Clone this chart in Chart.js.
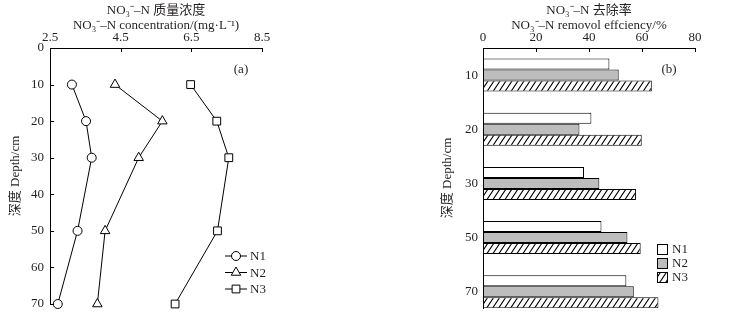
<!DOCTYPE html>
<html>
<head>
<meta charset="utf-8">
<script src="https://cdn.jsdelivr.net/npm/chart.js@4.4.0/dist/chart.umd.min.js"></script>
<style>
  html, body { margin: 0; padding: 0; background: #fff; }
  #wrap { position: relative; width: 729px; height: 325px; }
  canvas { position: absolute; top: 0; }
  #chartA { left: 0; }
  #chartB { left: 380px; }
</style>
</head>
<body>
<div id="wrap">
  <canvas id="chartA" width="365" height="325"></canvas>
  <canvas id="chartB" width="349" height="325"></canvas>
</div>
<script>
// 数据 (a): 深度 vs NO3--N 浓度
const depthsA = [10, 20, 30, 50, 70];
const concN1 = [3.12, 3.52, 3.68, 3.28, 2.72];
const concN2 = [4.34, 5.68, 5.01, 4.06, 3.84];
const concN3 = [6.48, 7.22, 7.56, 7.24, 6.04];
const concTicks = [2.5, 4.5, 6.5, 8.5];

// 数据 (b): 去除率
const depthsB = ['10', '20', '30', '50', '70'];
const remN1 = [47.7, 40.9, 38.1, 44.7, 54.1];
const remN2 = [51.2, 36.4, 43.9, 54.5, 56.9];
const remN3 = [63.7, 59.9, 57.7, 59.5, 66.2];

const seriesNames = ['N1', 'N2', 'N3'];

const FONT = '"Liberation Serif", "Noto Sans CJK SC", serif';
const INK = '#231f20';
Chart.defaults.font.family = FONT;
Chart.defaults.font.size = 13;
Chart.defaults.color = INK;

// 斜线填充
function hatchPattern() {
  const c = document.createElement('canvas');
  c.width = 6; c.height = 9;
  const g = c.getContext('2d');
  g.fillStyle = '#fff';
  g.fillRect(0, 0, 6, 9);
  g.strokeStyle = '#000';
  g.lineWidth = 1.1;
  g.beginPath();
  g.moveTo(0, 9); g.lineTo(6, 0);
  g.moveTo(-1, 1.5); g.lineTo(1, -1.5);
  g.moveTo(5, 10.5); g.lineTo(7, 7.5);
  g.stroke();
  return g.createPattern(c, 'repeat');
}

const topTitleFont = { size: 13, lineHeight: '15px' };
const noGrid = { display: false, drawTicks: false };

// 内向刻度、面板标记、图例
const decor = {
  id: 'decor',
  afterDraw(chart, args, opts) {
    const { ctx, chartArea: a, scales } = chart;
    ctx.save();
    ctx.strokeStyle = '#000';
    ctx.lineWidth = 1;
    scales.x.ticks.forEach(t => {
      const px = Math.round(scales.x.getPixelForValue(t.value)) + 0.5;
      ctx.beginPath(); ctx.moveTo(px, a.top); ctx.lineTo(px, a.top + 4); ctx.stroke();
    });
    if (opts.yTicks) {
      scales.y.ticks.forEach(t => {
        const py = Math.round(scales.y.getPixelForValue(t.value)) + 0.5;
        ctx.beginPath(); ctx.moveTo(a.left, py); ctx.lineTo(a.left + 4, py); ctx.stroke();
      });
    }
    ctx.fillStyle = INK;
    ctx.font = '13px ' + FONT;
    ctx.textAlign = 'center';
    ctx.textBaseline = 'middle';
    ctx.fillText(opts.tag, opts.tagX, opts.tagY);

    ctx.textAlign = 'left';
    chart.data.datasets.forEach((ds, i) => {
      const y = opts.legY + i * opts.legGap;
      if (opts.legType === 'line') {
        ctx.strokeStyle = '#000';
        ctx.beginPath(); ctx.moveTo(opts.legX, y); ctx.lineTo(opts.legX + 22, y); ctx.stroke();
        ctx.fillStyle = '#fff';
        Chart.helpers.drawPoint(ctx, { pointStyle: ds.pointStyle, radius: ds.pointRadius, borderWidth: 1, rotation: 0 }, opts.legX + 11, y);
        ctx.fillStyle = INK;
        ctx.fillText(ds.label, opts.legX + 25, y + 1);
      } else {
        ctx.fillStyle = ds.backgroundColor;
        ctx.fillRect(opts.legX, y - 5, 10, 10);
        ctx.strokeStyle = '#000';
        ctx.strokeRect(opts.legX + 0.5, y - 4.5, 10, 10);
        ctx.fillStyle = INK;
        ctx.fillText(ds.label, opts.legX + 15, y + 1);
      }
    });
    ctx.restore();
  }
};

function lineSet(label, vals, style, r) {
  return {
    label,
    data: depthsA.map((d, i) => ({ x: vals[i], y: d })),
    borderColor: '#000',
    borderWidth: 1,
    pointStyle: style,
    pointRadius: r,
    pointBackgroundColor: '#fff',
    pointBorderColor: '#000',
    pointBorderWidth: 1,
    tension: 0,
    clip: false
  };
}

new Chart(document.getElementById('chartA'), {
  type: 'line',
  data: {
    datasets: [
      lineSet(seriesNames[0], concN1, 'circle', 4.5),
      lineSet(seriesNames[1], concN2, 'triangle', 5.5),
      lineSet(seriesNames[2], concN3, 'rect', 5.5)
    ]
  },
  options: {
    responsive: false,
    animation: false,
    layout: { padding: { left: 8, top: 0, right: 103, bottom: 21 } },
    plugins: {
      legend: { display: false },
      tooltip: { enabled: false },
      decor: { yTicks: true, tag: '(a)', tagX: 241, tagY: 70, legType: 'line', legX: 225, legY: 256, legGap: 16.5 }
    },
    scales: {
      x: {
        type: 'linear', position: 'top', min: 2.5, max: 8.5,
        afterBuildTicks: s => { s.ticks = concTicks.map(v => ({ value: v })); },
        ticks: { padding: 3, callback: v => v.toFixed(1) },
        grid: noGrid,
        border: { color: '#000', width: 1 },
        title: { display: true, text: ['NO₃⁻–N 质量浓度', 'NO₃⁻–N concentration/(mg·L⁻¹)'], font: topTitleFont, padding: { top: 3, bottom: 0 } },
        afterFit: s => { s.height = 48; }
      },
      y: {
        type: 'linear', reverse: true, min: 0, max: 70,
        ticks: { stepSize: 10, padding: 6 },
        grid: noGrid,
        border: { color: '#000', width: 1 },
        title: { display: true, text: '深度 Depth/cm', padding: 0 },
        afterFit: s => { s.width = 42; }
      }
    }
  },
  plugins: [decor]
});

const hatch = hatchPattern();

function barSet(label, vals, fill) {
  return {
    label,
    data: depthsB.map((d, i) => ({ x: vals[i], y: i })),
    backgroundColor: fill,
    borderColor: '#000',
    borderWidth: 1,
    borderSkipped: false,
    barPercentage: 1,
    categoryPercentage: 0.61
  };
}

new Chart(document.getElementById('chartB'), {
  type: 'bar',
  data: {
    datasets: [
      barSet(seriesNames[0], remN1, '#fff'),
      barSet(seriesNames[1], remN2, '#bdbdbd'),
      barSet(seriesNames[2], remN3, hatch)
    ]
  },
  options: {
    indexAxis: 'y',
    responsive: false,
    animation: false,
    layout: { padding: { left: 60, top: 0, right: 34, bottom: 17 } },
    plugins: {
      legend: { display: false },
      tooltip: { enabled: false },
      decor: { yTicks: false, tag: '(b)', tagX: 289, tagY: 70, legType: 'box', legX: 277, legY: 249, legGap: 14 }
    },
    scales: {
      x: {
        type: 'linear', position: 'top', min: 0, max: 80,
        ticks: { stepSize: 20, padding: 3 },
        grid: noGrid,
        border: { color: '#000', width: 1 },
        title: { display: true, text: ['NO₃⁻–N 去除率', 'NO₃⁻–N removol effciency/%'], font: topTitleFont, padding: { top: 3, bottom: 0 } },
        afterFit: s => { s.height = 48; }
      },
      y: {
        type: 'linear', reverse: true, min: -0.5, max: 4.3, offset: false,
        afterBuildTicks: s => { s.ticks = depthsB.map((d, i) => ({ value: i })); },
        ticks: { padding: 5, callback: v => depthsB[v] },
        grid: { display: false, drawTicks: false, offset: false },
        border: { color: '#000', width: 1 },
        title: { display: true, text: '深度 Depth/cm', padding: 0 },
        afterFit: s => { s.width = 43; }
      }
    }
  },
  plugins: [decor]
});
</script>
</body>
</html>
